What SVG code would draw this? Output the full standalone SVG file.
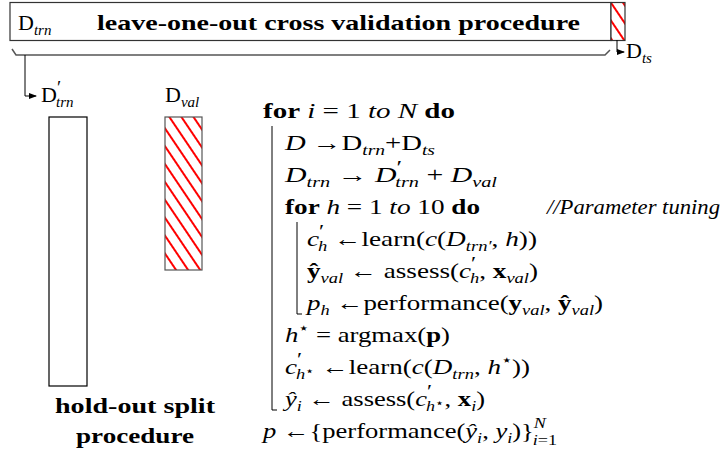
<svg xmlns="http://www.w3.org/2000/svg" width="725" height="453" viewBox="0 0 725 453" font-family="'Liberation Serif','DejaVu Serif',serif">
<style>
.t{font-family:'Liberation Serif','Times New Roman',Tinos,'DejaVu Serif',serif;font-size:22px;fill:#000}
.b{font-weight:bold}
.i{font-style:italic}
.s{font-size:15px}
.p{font-size:19px}
.ln{fill:none;stroke:#000;stroke-width:1}
.br{fill:none;stroke:#555;stroke-width:1.5}
</style>
<defs>
<pattern id="hatch" patternUnits="userSpaceOnUse" width="10" height="10" patternTransform="rotate(56)">
<rect width="10" height="10" fill="#fff"/>
<line x1="-1" y1="5" x2="11" y2="5" stroke="#f00" stroke-width="2"/>
</pattern>
<marker id="ah" markerWidth="8" markerHeight="6" refX="7" refY="3" orient="auto" markerUnits="userSpaceOnUse">
<path d="M0,0 L8,3 L0,6 Z" fill="#000"/>
</marker>
</defs>

<g id="loo-box">
<rect x="10" y="2.5" width="601" height="38" fill="#fff" stroke="#333" stroke-width="1.2"/>
<text class="t" x="18" y="30">D<tspan class="s i" dy="5">trn</tspan></text>
<text class="t b" x="97" y="30" textLength="483" lengthAdjust="spacingAndGlyphs">leave-one-out cross validation procedure</text>
</g>
<g id="test-set">
<rect x="611" y="2.5" width="14" height="38" fill="url(#hatch)" stroke="#333" stroke-width="1.2"/>
</g>

<g id="connectors">
<path class="br" d="M12,49 L16,55 H605 L610,50"/>
<path class="ln" d="M25,55 V96 H36" marker-end="url(#ah)"/>
<path class="ln" d="M617,40 V52 H624" marker-end="url(#ah)"/>
<path class="ln" d="M272,126 V410 H277"/>
<path class="ln" d="M297,222 V314 H302"/>
</g>

<g id="label-dts">
<text class="t" x="626" y="58">D<tspan class="s i" dy="5">ts</tspan></text>
</g>

<g id="train-subset">
<text class="t" x="41" y="102">D<tspan class="p" dy="-8">′</tspan><tspan class="s i" dx="-5" dy="13">trn</tspan></text>
<rect x="49" y="117" width="38" height="269" fill="#fff" stroke="#000" stroke-width="1.2"/>
</g>

<g id="val-subset">
<text class="t" x="165" y="102">D<tspan class="s i" dy="5">val</tspan></text>
<rect x="165" y="117" width="37" height="153" fill="url(#hatch)" stroke="#555" stroke-width="1.2"/>
</g>

<g id="holdout-label">
<text class="t b" x="135" y="413" text-anchor="middle" textLength="160" lengthAdjust="spacingAndGlyphs">hold-out split</text>
<text class="t b" x="135" y="443" text-anchor="middle" textLength="118" lengthAdjust="spacingAndGlyphs">procedure</text>
</g>

<g id="algorithm">
<text class="t" x="263" y="118" textLength="192" lengthAdjust="spacingAndGlyphs"><tspan class="b">for</tspan> <tspan class="i">i</tspan> = 1 <tspan class="i">to N</tspan> <tspan class="b">do</tspan></text>
<text class="t" x="285" y="150" textLength="150" lengthAdjust="spacingAndGlyphs"><tspan class="i">D</tspan> →D<tspan class="s i" dy="5">trn</tspan><tspan dy="-5">+D</tspan><tspan class="s i" dy="5">ts</tspan></text>
<text class="t" x="285" y="182" textLength="212" lengthAdjust="spacingAndGlyphs"><tspan class="i">D</tspan><tspan class="s i" dy="5">trn</tspan><tspan dy="-5"> → </tspan><tspan class="i">D</tspan><tspan class="p" dy="-8">′</tspan><tspan class="s i" dx="-5" dy="13">trn</tspan><tspan dy="-5"> + </tspan><tspan class="i">D</tspan><tspan class="s i" dy="5">val</tspan></text>
<text class="t" x="285" y="214" textLength="195" lengthAdjust="spacingAndGlyphs"><tspan class="b">for</tspan> <tspan class="i">h</tspan> = 1 <tspan class="i">to</tspan> 10 <tspan class="b">do</tspan></text>
<text class="t i" x="547" y="214" textLength="173" lengthAdjust="spacingAndGlyphs">//Parameter tuning</text>
<text class="t" x="307" y="246" textLength="230" lengthAdjust="spacingAndGlyphs"><tspan class="i">c</tspan><tspan class="p" dy="-8">′</tspan><tspan class="s i" dx="-5" dy="13">h</tspan><tspan dy="-5"> ←learn(</tspan><tspan class="i">c</tspan>(<tspan class="i">D</tspan><tspan class="s i" dy="5">trn′</tspan><tspan dy="-5">, </tspan><tspan class="i">h</tspan>))</text>
<text class="t" x="307" y="278" textLength="231" lengthAdjust="spacingAndGlyphs"><tspan class="b">ŷ</tspan><tspan class="s i" dy="5">val</tspan><tspan dy="-5"> ← assess(</tspan><tspan class="i">c</tspan><tspan class="p" dy="-8">′</tspan><tspan class="s i" dx="-5" dy="13">h</tspan><tspan dy="-5">, </tspan><tspan class="b">x</tspan><tspan class="s i" dy="5">val</tspan><tspan dy="-5">)</tspan></text>
<text class="t" x="307" y="310" textLength="296" lengthAdjust="spacingAndGlyphs"><tspan class="i">p</tspan><tspan class="s i" dy="5">h</tspan><tspan dy="-5"> ←performance(</tspan><tspan class="b">y</tspan><tspan class="s i" dy="5">val</tspan><tspan dy="-5">, </tspan><tspan class="b">ŷ</tspan><tspan class="s i" dy="5">val</tspan><tspan dy="-5">)</tspan></text>
<text class="t" x="285" y="342" textLength="165" lengthAdjust="spacingAndGlyphs"><tspan class="i">h</tspan><tspan class="s" dy="-9">⋆</tspan><tspan dy="9"> = argmax(</tspan><tspan class="b">p</tspan>)</text>
<text class="t" x="285" y="374" textLength="245" lengthAdjust="spacingAndGlyphs"><tspan class="i">c</tspan><tspan class="p" dy="-8">′</tspan><tspan class="s i" dx="-5" dy="13">h</tspan><tspan font-size="12" dy="-4">⋆</tspan><tspan dy="-1"> ←learn(</tspan><tspan class="i">c</tspan>(<tspan class="i">D</tspan><tspan class="s i" dy="5">trn</tspan><tspan dy="-5">, </tspan><tspan class="i">h</tspan><tspan class="s" dy="-9">⋆</tspan><tspan dy="9">))</tspan></text>
<text class="t" x="285" y="406" textLength="200" lengthAdjust="spacingAndGlyphs"><tspan class="i">ŷ</tspan><tspan class="s i" dy="5">i</tspan><tspan dy="-5"> ← assess(</tspan><tspan class="i">c</tspan><tspan class="p" dy="-8">′</tspan><tspan class="s i" dx="-5" dy="13">h</tspan><tspan font-size="12" dy="-4">⋆</tspan><tspan dy="-1">, </tspan><tspan class="b">x</tspan><tspan class="s i" dy="5">i</tspan><tspan dy="-5">)</tspan></text>
<text class="t" x="263" y="438" textLength="294" lengthAdjust="spacingAndGlyphs"><tspan class="i">p</tspan> ←{performance(<tspan class="i">ŷ</tspan><tspan class="s i" dy="5">i</tspan><tspan dy="-5">, </tspan><tspan class="i">y</tspan><tspan class="s i" dy="5">i</tspan><tspan dy="-5">)}</tspan><tspan class="s i" dy="-10">N</tspan><tspan class="s" dx="-11" dy="17"><tspan class="i">i</tspan>=1</tspan></text>
</g>
</svg>
